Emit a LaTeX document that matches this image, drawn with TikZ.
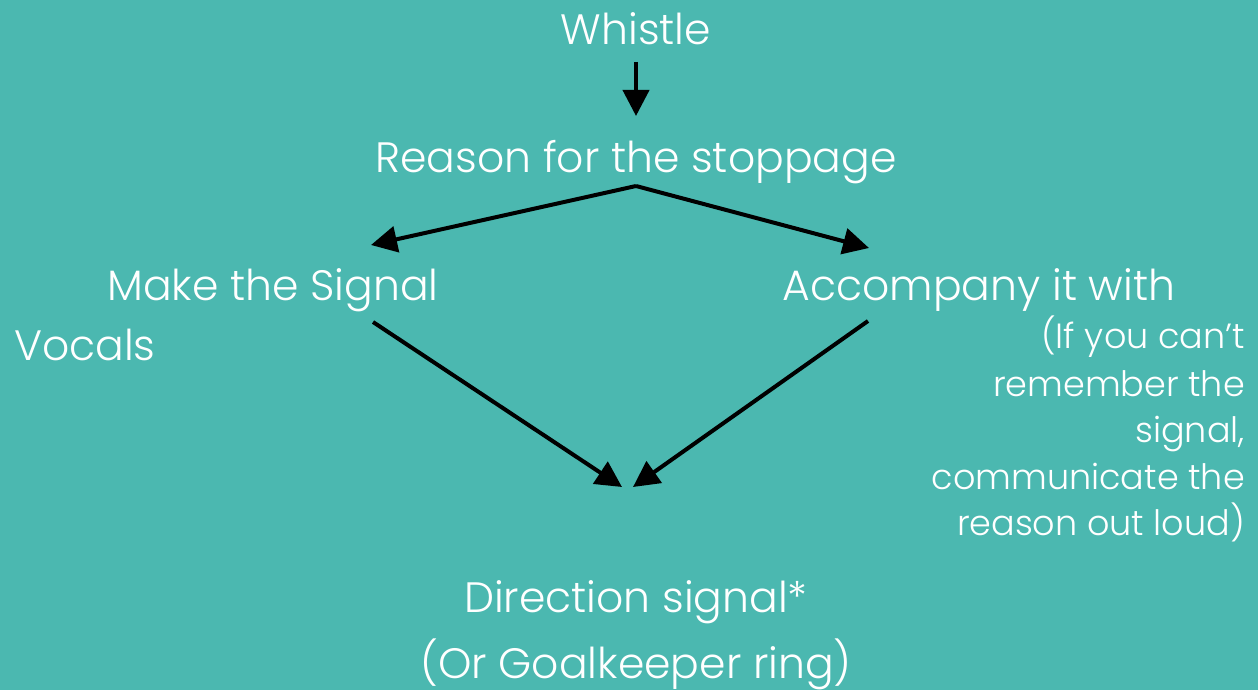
\documentclass[tikz,border=0pt]{standalone}
\usepackage{fontspec}
\setmainfont{Poppins}[UprightFont=* Light]
\usetikzlibrary{arrows.meta}
\definecolor{bgteal}{RGB}{75,184,176}
\begin{document}
\begin{tikzpicture}[x=1pt,y=-1pt,
  lbl/.style={text=white,inner sep=0pt,anchor=base,font=\fontsize{42.5}{50}\selectfont},
  note/.style={text=white,inner sep=0pt,anchor=base east,font=\fontsize{35}{47}\selectfont},
  flow/.style={draw=black,line width=4pt,-{Triangle[length=26pt,width=26pt]}}]
  \fill[bgteal] (0,0) rectangle (1258,690);
  \useasboundingbox (0,0) rectangle (1258,690);

  % labels
  \node[lbl] (whistle) at (636,45) {Whistle};
  \node[lbl] (reason) at (636,172) {Reason for the stoppage};
  \node[lbl] (make) at (273,300) {Make the Signal};
  \node[lbl] (accomp) at (979,300) {Accompany it with};
  \node[lbl,anchor=base west] (vocals) at (14,360) {Vocals};
  \node[note] (n1) at (1245,348) {(If you can’t};
  \node[note] (n2) at (1245,396) {remember the};
  \node[note] (n3) at (1245,442) {signal,};
  \node[note] (n4) at (1245,489) {communicate the};
  \node[note] (n5) at (1245,535) {reason out loud)};
  \node[lbl] (dir) at (636,612) {Direction signal*};
  \node[lbl] (gk) at (636,678) {(Or Goalkeeper ring)};

  % arrow end points
  \coordinate (w0) at (636,62);
  \coordinate (w1) at (636,116);
  \coordinate (r0) at (636,186);
  \coordinate (ml) at (371,245);
  \coordinate (ar) at (869,248);
  \coordinate (m0) at (373,322);
  \coordinate (a0) at (868,321);
  \coordinate (dl) at (622,487);
  \coordinate (dr) at (633,487);

  % connectors
  \draw[flow] (w0) -- (w1);
  \draw[flow] (r0) -- (ml);
  \draw[flow] (r0) -- (ar);
  \draw[flow] (m0) -- (dl);
  \draw[flow] (a0) -- (dr);
\end{tikzpicture}
\end{document}
